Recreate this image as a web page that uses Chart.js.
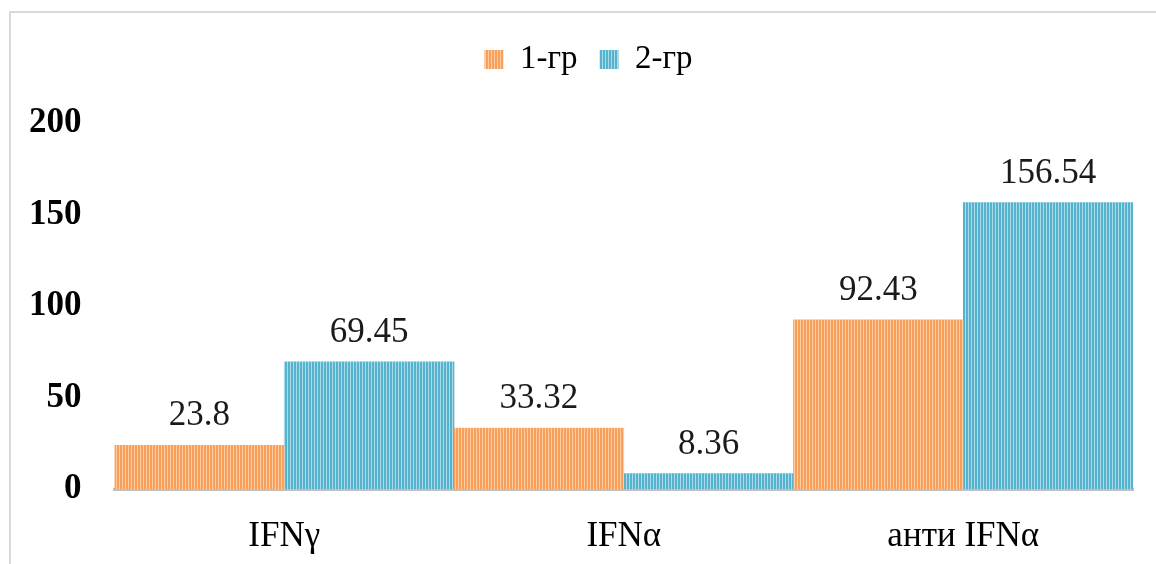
<!DOCTYPE html>
<html>
<head>
<meta charset="utf-8">
<script src="https://cdn.jsdelivr.net/npm/chart.js@4"></script>
<style>
  body { margin: 0; background: #fff; overflow: hidden; }
  #frame { position: absolute; left: 9px; top: 11px; width: 1200px; height: 600px; border: 2px solid #d9d9d9; }
  #wrap { position: absolute; left: 0; top: 0; width: 1156px; height: 564px; }
</style>
</head>
<body>
<div id="frame"></div>
<div id="wrap"><canvas id="myChart" width="1156" height="564"></canvas></div>
<script>
  // categories and group values
  var categories = ["IFNγ", "IFNα", "анти IFNα"];
  var group1 = [23.8, 33.32, 92.43];
  var group2 = [69.45, 8.36, 156.54];
  var seriesNames = ["1-гр", "2-гр"];
  var yTicks = [0, 50, 100, 150, 200];

  // vertical striped fill like the office bar style
  function stripes(base, light) {
    var c = document.createElement("canvas");
    c.width = 3;
    c.height = 4;
    var g = c.getContext("2d");
    g.fillStyle = base;
    g.fillRect(0, 0, 3, 4);
    g.fillStyle = light;
    g.fillRect(2, 0, 1, 4);
    return g.createPattern(c, "repeat");
  }
  var orangeFill = stripes("#f8a05a", "#fccda4");
  var blueFill = stripes("#56b3cd", "#acdae8");

  // numbers above each bar
  var valueLabels = {
    id: "valueLabels",
    afterDatasetsDraw: function (chart) {
      var ctx = chart.ctx;
      ctx.save();
      ctx.font = "35px 'Liberation Serif'";
      ctx.fillStyle = "#1a1a1a";
      ctx.textAlign = "center";
      ctx.textBaseline = "alphabetic";
      chart.data.datasets.forEach(function (ds, i) {
        chart.getDatasetMeta(i).data.forEach(function (bar, j) {
          ctx.fillText(String(ds.data[j]), bar.x, bar.y - 20);
        });
      });
      ctx.restore();
    }
  };

  // extra space between the legend and the plot, legend nudged right
  var legendGap = {
    id: "legendGap",
    beforeInit: function (chart) {
      var fit = chart.legend.fit;
      chart.legend.fit = function () {
        fit.call(this);
        this.height += 37;
      };
    },
    afterLayout: function (chart) {
      chart.legend.left += 24;
      chart.legend.right += 24;
    }
  };

  var ctx = document.getElementById("myChart").getContext("2d");
  var chart = new Chart(ctx, {
    type: "bar",
    data: {
      labels: categories,
      datasets: [{
        label: seriesNames[0],
        data: group1,
        backgroundColor: orangeFill,
        borderWidth: 0
      }, {
        label: seriesNames[1],
        data: group2,
        backgroundColor: blueFill,
        borderWidth: 0
      }]
    },
    options: {
      responsive: false,
      animation: false,
      categoryPercentage: 1.0,
      barPercentage: 1.0,
      layout: { padding: { left: -4, right: 23, top: 21, bottom: -21 } },
      plugins: {
        tooltip: { enabled: false },
        legend: {
          position: "top",
          labels: {
            boxWidth: 19,
            boxHeight: 19,
            padding: 22,
            color: "#000",
            font: { family: "'Liberation Serif'", size: 33 }
          }
        }
      },
      scales: {
        x: {
          grid: { display: false, drawTicks: false },
          border: { display: true, color: "#bfbfbf", width: 3 },
          ticks: {
            padding: 27,
            color: "#000",
            font: { family: "'Liberation Serif'", size: 35 }
          }
        },
        y: {
          min: 0,
          max: 200,
          afterBuildTicks: function (axis) {
            axis.ticks = yTicks.map(function (v) { return { value: v }; });
          },
          grid: { display: false, drawTicks: false },
          border: { display: false },
          ticks: {
            padding: 33,
            color: "#000",
            font: { family: "'Liberation Serif'", size: 35, weight: "bold" }
          }
        }
      }
    },
    plugins: [valueLabels, legendGap]
  });
</script>
</body>
</html>
